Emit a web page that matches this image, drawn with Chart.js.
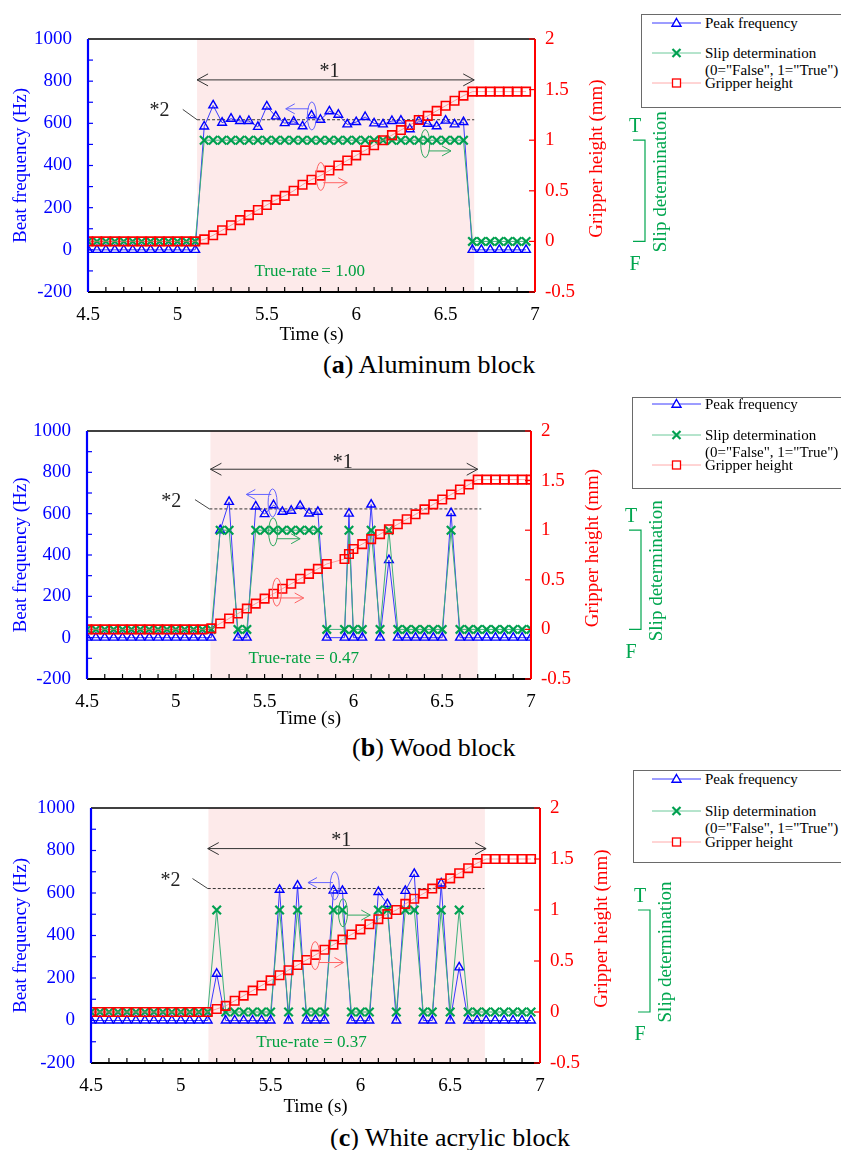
<!DOCTYPE html>
<html>
<head>
<meta charset="utf-8">
<title>Slip determination</title>
<script src="https://cdn.jsdelivr.net/npm/chart.js@4.4.1/dist/chart.umd.min.js"></script>
<style>
  html, body { margin:0; padding:0; background:#fff; }
  body { position:relative; width:841px; height:1150px; overflow:hidden; font-family:"Liberation Serif", "Times New Roman", serif; }
  canvas { position:absolute; left:0; }
  .lgbox { position:absolute; background:#fff; border:1.5px solid #6a6a6a; z-index:2; }
  .lgtxt { position:absolute; font-size:15px; line-height:18px; white-space:nowrap; color:#000; z-index:3; }
  .lgsvg { position:absolute; z-index:3; }
  .cap { position:absolute; font-size:26px; line-height:30px; white-space:nowrap; color:#000; }
</style>
</head>
<body>
<canvas id="chartA" width="841" height="348" style="top:0px"></canvas>
<canvas id="chartB" width="841" height="347" style="top:385px"></canvas>
<canvas id="chartC" width="841" height="350" style="top:770px"></canvas>
<div class="cap" style="left:323px;top:350px">(<b>a</b>) Aluminum block</div>
<div class="cap" style="left:352px;top:733px">(<b>b</b>) Wood block</div>
<div class="cap" style="left:330px;top:1123px">(<b>c</b>) White acrylic block</div>
<script>
// ---- tick labels ----
const timeTicks = [4.5, 5, 5.5, 6, 6.5, 7];
const freqTicks = [-200, 0, 200, 400, 600, 800, 1000];
const heightTicks = [-0.5, 0, 0.5, 1, 1.5, 2];

// ---- (a) Aluminum block ----
const timeA = [4.5,4.55,4.6,4.65,4.7,4.75,4.8,4.85,4.9,4.95,5,5.05,5.1,5.15,5.2,5.25,5.3,5.35,5.4,5.45,5.5,5.55,5.6,5.65,5.7,5.75,5.8,5.85,5.9,5.95,6,6.05,6.1,6.15,6.2,6.25,6.3,6.35,6.4,6.45,6.5,6.55,6.6,6.65,6.7,6.75,6.8,6.85,6.9,6.95];
const peakA = [0,0,0,0,0,0,0,0,0,0,0,0,0,
  585,685,603,622,611,611,583,680,633,601,608,586,638,617,657,641,595,606,630,600,595,611,613,572,611,598,586,613,595,606,
  0,0,0,0,0,0,0];
const slipA = [0,0,0,0,0,0,0,0,0,0,0,0,0,
  1,1,1,1,1,1,1,1,1,1,1,1,1,1,1,1,1,1,1,1,1,1,1,1,1,1,1,1,1,1,
  0,0,0,0,0,0,0];
const gripA = [0,0,0,0,0,0,0,0,0,0,0,0,0,
  0.02,0.06,0.11,0.16,0.21,0.26,0.31,0.36,0.41,0.45,0.50,0.56,0.61,0.65,0.70,0.75,0.80,0.85,0.90,0.95,1.00,1.05,1.10,1.15,1.20,1.24,1.29,1.34,1.39,1.44,
  1.48,1.48,1.48,1.48,1.48,1.48,1.48];

// ---- (b) Wood block ----
const timeB = [4.5,4.55,4.6,4.65,4.7,4.75,4.8,4.85,4.9,4.95,5,5.05,5.1,5.15,5.2,5.25,5.3,5.35,5.4,5.45,5.5,5.55,5.6,5.65,5.7,5.75,5.8,5.85,5.95,5.975,6,6.05,6.1,6.15,6.2,6.25,6.3,6.35,6.4,6.45,6.5,6.55,6.6,6.65,6.7,6.75,6.8,6.85,6.9,6.95,7];
const peakB = [0,0,0,0,0,0,0,0,0,0,0,0,0,0,0,
  520,657,0,0,635,598,641,609,614,638,601,609,0,
  0,600,
  0,0,644,0,375,0,0,0,0,0,0,603,0,0,0,0,0,0,0,0,0];
const slipB = [0,0,0,0,0,0,0,0,0,0,0,0,0,0,0,
  1,1,0,0,1,1,1,1,1,1,1,1,0,
  0,1,
  0,0,1,0,1,0,0,0,0,0,0,1,0,0,0,0,0,0,0,0,0];
const gripB = [0,0,0,0,0,0,0,0,0,0,0,0,0,0,0.01,
  0.06,0.11,0.16,0.21,0.26,0.31,0.36,0.41,0.46,0.51,0.56,0.61,0.66,
  0.71,0.76,
  0.81,0.86,0.91,0.96,1.01,1.06,1.11,1.16,1.21,1.26,1.31,1.36,1.41,1.46,1.51,1.51,1.51,1.51,1.51,1.51,1.51];

// ---- (c) White acrylic block ----
const timeC = [4.5,4.55,4.6,4.65,4.7,4.75,4.8,4.85,4.9,4.95,5,5.05,5.1,5.15,5.2,5.25,5.3,5.35,5.4,5.45,5.5,5.55,5.6,5.65,5.7,5.75,5.8,5.85,5.9,5.95,6,6.05,6.1,6.15,6.2,6.25,6.3,6.35,6.4,6.45,6.5,6.55,6.6,6.65,6.7,6.75,6.8,6.85,6.9,6.95];
const peakC = [0,0,0,0,0,0,0,0,0,0,0,0,0,0,
  220,0,0,0,0,0,0,615,0,635,0,0,0,612,610,0,0,0,605,548,0,610,690,0,0,645,0,250,
  0,0,0,0,0,0,0,0];
const slipC = [0,0,0,0,0,0,0,0,0,0,0,0,0,0,
  1,0,0,0,0,0,0,1,0,1,0,0,0,1,1,0,0,0,1,1,0,1,1,0,0,1,0,1,
  0,0,0,0,0,0,0,0];
const gripC = [0,0,0,0,0,0,0,0,0,0,0,0,0,0,
  0.03,0.06,0.11,0.16,0.21,0.26,0.31,0.36,0.41,0.46,0.51,0.56,0.61,0.66,0.71,0.76,0.81,0.86,0.91,0.96,1.00,1.06,1.11,1.16,1.21,1.26,1.31,1.36,1.41,1.46,
  1.50,1.50,1.50,1.50,1.50,1.50];

// annotations, in data units (time, Hz or mm)
const annA = { shade:[5.11, 6.66], span:[5.11, 6.66, 806], star1:[5.85, 843], star2:[4.9, 661],
  leader:[5.03, 666, 5.11, 617], dash:[5.11, 6.66, 617], rate:[5.74, -102, 'True-rate = 1.00'],
  blue:[5.752, 635, 5.736, 5.606, 669], green:[6.386, 0.967, 6.406, 6.53, 0.894], red:[5.802, 0.642, 5.816, 5.95, 0.58] };
const annB = { shade:[5.195, 6.70], span:[5.195, 6.70, 815], star1:[5.94, 847], star2:[4.975, 660],
  leader:[5.108, 668, 5.189, 623], dash:[5.189, 6.72, 623], rate:[5.72, -99, 'True-rate = 0.47'],
  blue:[5.545, 652, 5.538, 5.397, 693], green:[5.548, 0.983, 5.569, 5.70, 0.914], red:[5.569, 0.376, 5.579, 5.72, 0.317] };
const annC = { shade:[5.154, 6.693], span:[5.15, 6.70, 809], star1:[5.893, 848], star2:[4.942, 660],
  leader:[5.065, 668, 5.15, 621], dash:[5.15, 6.69, 621], rate:[5.728, -106, 'True-rate = 0.37'],
  blue:[5.857, 634, 5.847, 5.708, 649], green:[5.903, 0.973, 5.926, 6.055, 0.95], red:[5.748, 0.553, 5.768, 5.906, 0.485] };

const GREEN = '#00a64f';
const SERIF = '"Liberation Serif", "Times New Roman", serif';
Chart.defaults.font.family = SERIF;
const f19 = { family: SERIF, size: 19 };

function seg(ctx, x0, y0, x1, y1) { ctx.beginPath(); ctx.moveTo(x0, y0); ctx.lineTo(x1, y1); ctx.stroke(); }
function head(ctx, x, y, dir, len, w) {
  ctx.beginPath(); ctx.moveTo(x - dir * len, y - w); ctx.lineTo(x, y); ctx.lineTo(x - dir * len, y + w); ctx.stroke();
}
function cue(ctx, cx, cy, ax0, ax1, ay, color) {
  ctx.strokeStyle = color; ctx.lineWidth = 1;
  ctx.beginPath(); ctx.ellipse(cx, cy, 4.5, 14, 0, 0, Math.PI * 2); ctx.stroke();
  seg(ctx, ax0, ay, ax1, ay);
  head(ctx, ax1, ay, Math.sign(ax1 - ax0), 9, 5);
}

const extras = {
  id: 'extras',
  beforeDatasetsDraw(chart, args, o) {
    const { ctx, chartArea: a, scales: { x, y } } = chart;
    ctx.save();
    const s0 = x.getPixelForValue(o.shade[0]), s1 = x.getPixelForValue(o.shade[1]);
    ctx.fillStyle = '#fdeaea';
    ctx.fillRect(s0, a.top, s1 - s0, a.bottom - a.top);
    ctx.strokeStyle = '#333'; ctx.lineWidth = 1; ctx.setLineDash([3, 2]);
    const dy = y.getPixelForValue(o.dash[2]);
    seg(ctx, x.getPixelForValue(o.dash[0]), dy, x.getPixelForValue(o.dash[1]), dy);
    ctx.setLineDash([]);
    ctx.strokeStyle = '#444';
    seg(ctx, x.getPixelForValue(o.leader[0]), y.getPixelForValue(o.leader[1]), x.getPixelForValue(o.leader[2]), y.getPixelForValue(o.leader[3]));
    ctx.restore();
  },
  afterDatasetsDraw(chart, args, o) {
    const { ctx, chartArea: a, scales: { x, y, y2 } } = chart;
    const px = v => x.getPixelForValue(v), py = v => y.getPixelForValue(v), pr = v => y2.getPixelForValue(v);
    ctx.save();
    // *1 span
    ctx.strokeStyle = '#333'; ctx.lineWidth = 1;
    const sy = py(o.span[2]), sx0 = px(o.span[0]), sx1 = px(o.span[1]);
    seg(ctx, sx0, sy, sx1, sy);
    head(ctx, sx0, sy, -1, 11, 6); head(ctx, sx1, sy, 1, 11, 6);
    ctx.textAlign = 'center'; ctx.textBaseline = 'middle';
    ctx.fillStyle = '#222'; ctx.font = '20px ' + SERIF;
    ctx.fillText('*1', px(o.star1[0]), py(o.star1[1]));
    ctx.fillText('*2', px(o.star2[0]), py(o.star2[1]));
    ctx.fillStyle = '#00a040'; ctx.font = '17px ' + SERIF;
    ctx.fillText(o.rate[2], px(o.rate[0]), py(o.rate[1]));
    // axis cues
    cue(ctx, px(o.blue[0]), py(o.blue[1]), px(o.blue[2]), px(o.blue[3]), py(o.blue[4]), '#6464ff');
    cue(ctx, px(o.green[0]), pr(o.green[1]), px(o.green[2]), px(o.green[3]), pr(o.green[4]), '#2fa860');
    cue(ctx, px(o.red[0]), pr(o.red[1]), px(o.red[2]), px(o.red[3]), pr(o.red[4]), '#ff6464');
    // frame and inner ticks
    ctx.lineWidth = 1.3; ctx.strokeStyle = '#000';
    seg(ctx, a.left, a.top, a.right, a.top);
    ctx.lineWidth = 1.8;
    seg(ctx, a.left, a.bottom, a.right, a.bottom);
    ctx.lineWidth = 1.2;
    for (let i = 1; i < 25; i++) { const xx = px(4.5 + i * 0.1); seg(ctx, xx, a.bottom, xx, a.bottom - 5); }
    ctx.strokeStyle = '#0000ff';
    for (let i = 1; i < 12; i++) { const yy = py(-200 + i * 100); seg(ctx, a.left, yy, a.left + 5, yy); }
    ctx.lineWidth = 2.2;
    seg(ctx, a.left, a.top, a.left, a.bottom);
    ctx.strokeStyle = '#ff0000'; ctx.lineWidth = 1.2;
    heightTicks.forEach(v => { const yy = pr(v); seg(ctx, a.right, yy, a.right - 6, yy); });
    ctx.lineWidth = 2;
    seg(ctx, a.right, a.top, a.right, a.bottom);
    // right-hand titles
    ctx.font = '19px ' + SERIF;
    ctx.save();
    ctx.translate(a.right + 62, (a.top + a.bottom) / 2 - 7); ctx.rotate(-Math.PI / 2);
    ctx.fillStyle = '#ff0000'; ctx.fillText('Gripper height (mm)', 0, 0);
    ctx.restore();
    const yT = pr(1), yF = pr(0);
    ctx.fillStyle = GREEN; ctx.font = '20px ' + SERIF;
    ctx.fillText('T', a.right + 100, yT - 13);
    ctx.fillText('F', a.right + 100, yF + 23);
    ctx.strokeStyle = GREEN; ctx.lineWidth = 1.2;
    ctx.beginPath(); ctx.moveTo(a.right + 98, yT); ctx.lineTo(a.right + 110, yT); ctx.lineTo(a.right + 110, yF); ctx.lineTo(a.right + 98, yF); ctx.stroke();
    ctx.font = '19px ' + SERIF;
    ctx.save();
    ctx.translate(a.right + 126, (yT + yF) / 2 - 9); ctx.rotate(-Math.PI / 2);
    ctx.fillText('Slip determination', 0, 0);
    ctx.restore();
    ctx.restore();
  }
};

function makeChart(id, time, peak, slip, grip, ann, lay) {
  const pts = arr => time.map((t, i) => ({ x: t, y: arr[i] }));
  const fixed = list => s => { s.ticks = list.map(v => ({ value: v })); };
  const noGrid = { display: false, drawTicks: false };
  return new Chart(document.getElementById(id), {
    type: 'line',
    data: { datasets: [
      { label: 'Gripper height', data: pts(grip), yAxisID: 'y2', order: 0,
        borderColor: 'rgba(255,110,110,0.65)', borderWidth: 1,
        pointStyle: 'rect', pointRadius: 6, pointBorderColor: '#ff0000', pointBorderWidth: 1.6, pointBackgroundColor: 'rgba(0,0,0,0)' },
      { label: 'Slip determination', data: pts(slip), yAxisID: 'y2', order: 1,
        borderColor: '#3cb07a', borderWidth: 1,
        pointStyle: 'crossRot', pointRadius: 6, pointBorderColor: '#00a050', pointBorderWidth: 2.2 },
      { label: 'Peak frequency', data: pts(peak), yAxisID: 'y', order: 2,
        borderColor: '#3a3aff', borderWidth: 1,
        pointStyle: 'triangle', pointRadius: 5, pointBorderColor: '#0000ff', pointBorderWidth: 1.4, pointBackgroundColor: 'rgba(0,0,0,0)' }
    ]},
    options: {
      responsive: false, animation: false,
      layout: { padding: { top: lay.padTop, left: 0, right: 0, bottom: 0 } },
      plugins: { legend: { display: false }, tooltip: { enabled: false }, extras: ann },
      scales: {
        x: { type: 'linear', min: 4.5, max: 7, afterBuildTicks: fixed(timeTicks),
          ticks: { color: '#000', font: f19, padding: 12, maxRotation: 0, autoSkip: false, callback: v => String(v) },
          grid: noGrid, border: { display: false },
          title: { display: true, text: 'Time (s)', color: '#000', font: f19, padding: { top: 0, bottom: 1.6 } },
          afterFit: s => { s.height = lay.xh; } },
        y: { position: 'left', min: -200, max: 1000, afterBuildTicks: fixed(freqTicks),
          ticks: { color: '#0000ff', font: f19, padding: 16, callback: v => String(v) },
          grid: noGrid, border: { display: false },
          title: { display: true, text: 'Beat frequency (Hz)', color: '#0000ff', font: f19, padding: { top: 10, bottom: 0 } },
          afterFit: s => { s.width = lay.left; } },
        y2: { position: 'right', min: -0.5, max: 2, afterBuildTicks: fixed(heightTicks),
          ticks: { color: '#ff0000', font: f19, padding: 10, callback: v => String(v) },
          grid: { display: false, drawTicks: false, drawOnChartArea: false }, border: { display: false },
          afterFit: s => { s.width = 841 - lay.right; } }
      }
    },
    plugins: [extras]
  });
}

makeChart('chartA', timeA, peakA, slipA, gripA, annA, { padTop: 39, left: 88, right: 535, xh: 56 });
makeChart('chartB', timeB, peakB, slipB, gripB, annB, { padTop: 46, left: 87, right: 531, xh: 53 });
makeChart('chartC', timeC, peakC, slipC, gripC, annC, { padTop: 38, left: 91, right: 540, xh: 57 });

// legends
const legendLabels = ['Peak frequency', 'Slip determination', '(0="False", 1="True")', 'Gripper height'];
const samples = [
  '<line x1="0" y1="6" x2="49" y2="6" stroke="#3a3aff" stroke-width="1"/><polygon points="24.5,1.5 29,9.2 20,9.2" fill="#fff" stroke="#0000ff" stroke-width="1.4"/>',
  '<line x1="0" y1="6" x2="49" y2="6" stroke="#6cc99a" stroke-width="1"/><path d="M20.5 2 L28.5 10 M28.5 2 L20.5 10" stroke="#00a050" stroke-width="2.2"/>',
  null,
  '<line x1="0" y1="6" x2="49" y2="6" stroke="#ffaaaa" stroke-width="1"/><rect x="20.5" y="2" width="8" height="8" fill="#fff" stroke="#ff0000" stroke-width="1.3"/>'
];
function buildLegend(left, top, height, rows) {
  const box = document.createElement('div');
  box.className = 'lgbox';
  box.style.cssText = `left:${left}px;top:${top}px;width:${850 - left}px;height:${height}px`;
  document.body.appendChild(box);
  rows.forEach((ry, i) => {
    const t = document.createElement('div');
    t.className = 'lgtxt';
    t.style.cssText = `left:705px;top:${ry - 9}px`;
    t.textContent = legendLabels[i];
    document.body.appendChild(t);
    if (samples[i]) {
      const s = document.createElementNS('http://www.w3.org/2000/svg', 'svg');
      s.setAttribute('class', 'lgsvg'); s.setAttribute('width', '49'); s.setAttribute('height', '12');
      s.style.left = '652px'; s.style.top = (ry - 6) + 'px';
      s.innerHTML = samples[i];
      document.body.appendChild(s);
    }
  });
}
buildLegend(641, 14, 92, [23, 53, 70, 83]);
buildLegend(632, 397, 90, [404, 435, 452, 465]);
buildLegend(633, 770, 91, [779, 811, 828, 842]);
</script>
</body>
</html>
